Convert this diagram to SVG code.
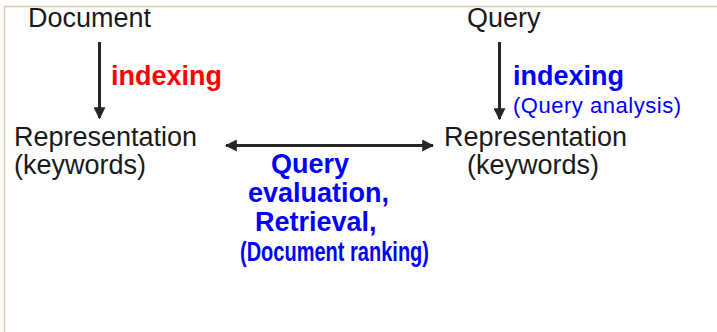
<svg xmlns="http://www.w3.org/2000/svg" width="717" height="332" viewBox="0 0 717 332">
  <style>
    .lbl { font-family: "Liberation Sans", Arial, sans-serif; font-size: 27px; fill: #1a1a1a; }
    .b { font-family: "Liberation Sans", Arial, sans-serif; font-weight: bold; font-size: 27px; }
    .red { fill: #ff0000; }
    .blue { fill: #0000ff; }
    .conn { stroke: #262626; stroke-width: 3; fill: none; }
  </style>
  <defs>
    <marker id="head" viewBox="0 0 10 10" refX="9" refY="5" markerWidth="4" markerHeight="4" orient="auto-start-reverse" markerUnits="strokeWidth">
      <path d="M0,0 L10,5 L0,10 Z" fill="#262626"/>
    </marker>
  </defs>
  <rect width="717" height="332" fill="#ffffff"/>
  <!-- frame -->
  <path d="M4.5,332 V6.5 H717" stroke="#d9c9a9" stroke-width="1.5" fill="none"/>

  <g id="document">
    <text class="lbl" x="28" y="27">Document</text>
  </g>
  <g id="query">
    <text class="lbl" x="467" y="27">Query</text>
  </g>
  <g id="doc-representation">
    <text class="lbl" x="14" y="146">Representation</text>
    <text class="lbl" x="14" y="174">(keywords)</text>
  </g>
  <g id="query-representation">
    <text class="lbl" x="444" y="146">Representation</text>
    <text class="lbl" x="467" y="174">(keywords)</text>
  </g>

  <g id="connectors">
    <line class="conn" x1="99.5" y1="42" x2="99.5" y2="118" marker-end="url(#head)"/>
    <line class="conn" x1="499.5" y1="42" x2="499.5" y2="119" marker-end="url(#head)"/>
    <line class="conn" x1="226" y1="145.5" x2="433" y2="145.5" marker-start="url(#head)" marker-end="url(#head)"/>
  </g>

  <g id="labels">
    <text class="b red" x="111" y="85">indexing</text>
    <text class="b blue" x="513" y="85">indexing</text>
    <text class="blue" x="513" y="113" font-family="Liberation Sans, Arial, sans-serif" font-size="22" textLength="168">(Query analysis)</text>
    <text class="b blue" x="271" y="173">Query</text>
    <text class="b blue" x="248" y="202">evaluation,</text>
    <text class="b blue" x="255" y="231">Retrieval,</text>
    <text class="b blue" x="240" y="261" font-size="19" textLength="189" lengthAdjust="spacingAndGlyphs">(Document ranking)</text>
  </g>
</svg>
